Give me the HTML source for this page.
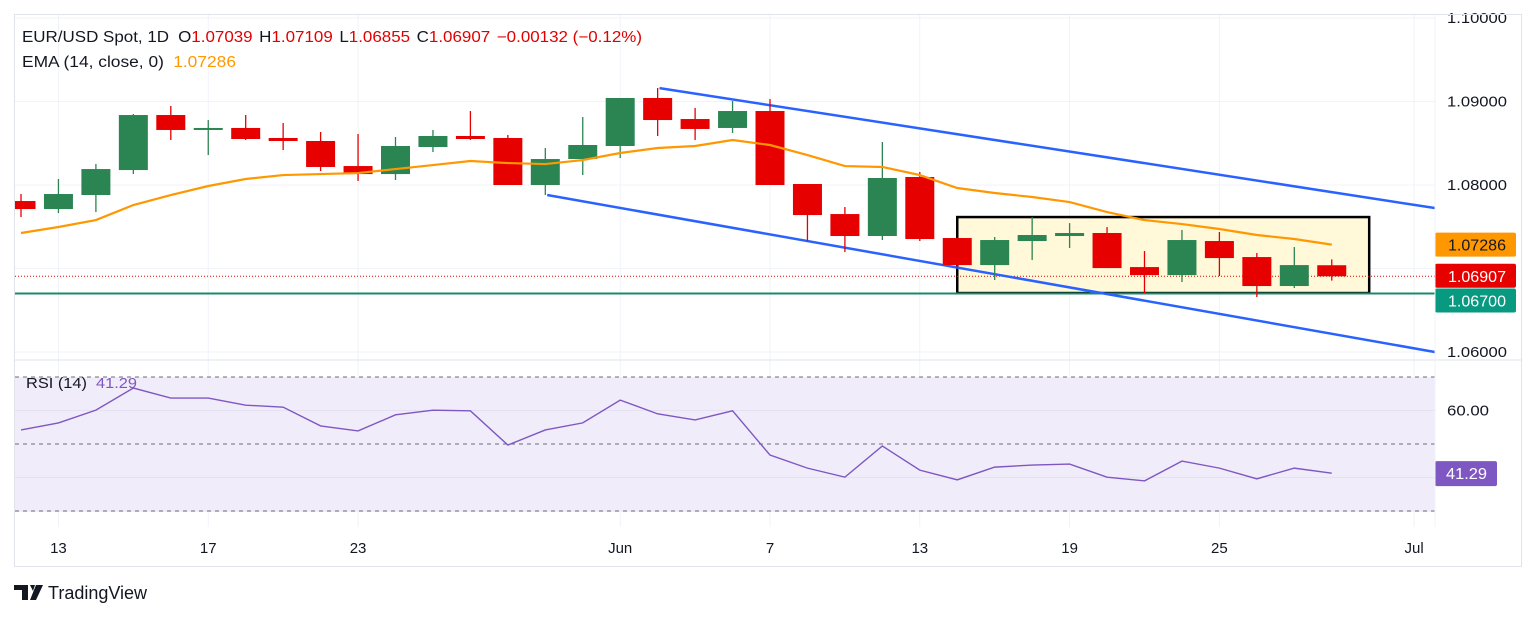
<!DOCTYPE html>
<html><head><meta charset="utf-8"><style>
html,body{margin:0;padding:0;background:#fff;width:1536px;height:618px;overflow:hidden}
svg{display:block;font-family:"Liberation Sans","DejaVu Sans",sans-serif}
</style></head><body>
<svg id="chart" width="1536" height="618" viewBox="0 0 1536 618" xmlns="http://www.w3.org/2000/svg">
<g id="grid"></g>
<rect x="15" y="377" width="1420" height="135" fill="#f1ecf9"/>
<g id="rsigrid"></g>
<g id="price"></g>
<g id="rsi"></g>
<g id="axes"></g>
<rect x="14.5" y="14.5" width="1507" height="552" fill="none" stroke="#e0e3eb"/>
<line x1="15" x2="1521" y1="360" y2="360" stroke="#e0e3eb"/>
<line x1="1435" x2="1435" y1="15" y2="527" stroke="#f0f3fa"/>
<text x="22" y="42" font-size="15.5" fill="#131722" textLength="620" lengthAdjust="spacingAndGlyphs">EUR/USD Spot, 1D <tspan dx="4">O</tspan><tspan fill="#e00000">1.07039</tspan><tspan dx="6">H</tspan><tspan fill="#e00000">1.07109</tspan><tspan dx="6">L</tspan><tspan fill="#e00000">1.06855</tspan><tspan dx="6">C</tspan><tspan fill="#e00000">1.06907</tspan><tspan dx="6" fill="#e00000">−0.00132 (−0.12%)</tspan></text>
<text x="22" y="67" font-size="15.5" fill="#131722" textLength="214" lengthAdjust="spacingAndGlyphs">EMA (14, close, 0) <tspan dx="4" fill="#ff9800">1.07286</tspan></text>
<text x="26" y="388" font-size="14.5" fill="#131722" textLength="111" lengthAdjust="spacingAndGlyphs">RSI (14) <tspan dx="4" fill="#7e57c2">41.29</tspan></text>
<g>
<path d="M14 585h14v15h-6v-10h-8z M30 585h5l-2 6z M36 585h7l-7 15h-6z" fill="#131722"/>
<text x="48" y="599" font-size="18" fill="#131722">TradingView</text>
</g>
</svg>
<script>
const dates=[1,5,9,16,20,24,28,32,37.2];
const dateLabels=["13","17","23","Jun","7","13","19","25","Jul"];
const openP=[1.07808,1.07712,1.0788,1.08179,1.08838,1.08659,1.08683,1.08563,1.08527,1.08227,1.08131,1.08455,1.08587,1.08563,1.08,1.08311,1.08467,1.09042,1.0879,1.08683,1.08886,1.08012,1.07652,1.07389,1.08096,1.07365,1.07041,1.07329,1.07389,1.07425,1.07017,1.06921,1.07329,1.07137,1.0679,1.07039];
const highP=[1.07892,1.08072,1.08251,1.0885,1.08946,1.08778,1.08838,1.08742,1.08635,1.08611,1.08575,1.08659,1.08886,1.08599,1.08443,1.08814,1.09042,1.09162,1.08922,1.09006,1.0903,1.08012,1.07736,1.08515,1.08156,1.07365,1.07377,1.07616,1.07544,1.07496,1.07209,1.07461,1.07437,1.07185,1.07257,1.07109];
const lowP=[1.07616,1.07664,1.07676,1.08131,1.08539,1.08359,1.08539,1.08419,1.08167,1.08048,1.0806,1.08395,1.08539,1.08,1.0788,1.08119,1.08323,1.08587,1.08539,1.08623,1.08,1.07329,1.07197,1.07341,1.07329,1.07005,1.06862,1.07101,1.07245,1.07005,1.06706,1.06838,1.0691,1.06658,1.06766,1.06855];
const closeP=[1.07712,1.07892,1.08191,1.08838,1.08659,1.08683,1.08551,1.08527,1.08216,1.08131,1.08467,1.08587,1.08551,1.08,1.08311,1.08479,1.09042,1.08778,1.08671,1.08886,1.08,1.0764,1.07389,1.08084,1.07353,1.07041,1.07341,1.07401,1.07425,1.07005,1.06921,1.07341,1.07125,1.0679,1.07041,1.06907];
const emaP=[1.07425,1.07497,1.0758,1.0776,1.0788,1.07988,1.08072,1.08119,1.08131,1.08143,1.08191,1.08239,1.08287,1.08263,1.08251,1.08299,1.08383,1.08443,1.08467,1.08539,1.08479,1.08359,1.08227,1.08216,1.08119,1.07964,1.07904,1.07856,1.07796,1.07676,1.0758,1.07532,1.07473,1.07401,1.07353,1.07286];
const rsiV=[54.2,56.3,60.1,66.7,63.7,63.7,61.6,61.0,55.4,53.9,58.7,60.1,59.9,49.7,54.2,56.3,63.1,59.0,57.2,59.9,46.7,42.8,40.1,49.4,42.2,39.3,43.1,43.7,44.0,40.1,39.0,44.9,42.8,39.6,42.8,41.29];
const priceTicks=[1.10,1.09,1.08,1.07,1.06];
const priceTickLabels=["1.10000","1.09000","1.08000","","1.06000"];
const upperChannel=[[17.05,1.0916],[37.75,1.07724]];
const lowerChannel=[[14.05,1.0788],[37.75,1.06]];
const rangeBox=[[25.0,1.07616],[36.0,1.06706]];
const supportLevel=1.067;
const lastClose=1.06907;
const lastEma=1.07286;
const lastRsi=41.29;

const NS="http://www.w3.org/2000/svg";
const X=i=>21+37.45*i;
const Y=p=>18+(1.10-p)*8350;
const R=v=>377+(70-v)*3.35;
function mk(parent,tag,attrs){const e=document.createElementNS(NS,tag);for(const k in attrs)e.setAttribute(k,attrs[k]);document.getElementById(parent).appendChild(e);return e;}

dates.forEach((d,i)=>{
 const g=mk('grid','line',{x1:X(d),x2:X(d),y1:15,y2:527,stroke:'#f0f3fa'});
 
 
 const t=mk('axes','text',{x:X(d),y:553,'font-size':15,'text-anchor':'middle',fill:'#131722'});
 t.textContent=dateLabels[i];
 
 
});
priceTicks.forEach((p,i)=>{
 const g=mk('grid','line',{x1:15,x2:1435,y1:Y(p),y2:Y(p),stroke:'#f0f3fa'});
 
 
 if(priceTickLabels[i]){const t=mk('axes','text',{x:1447,y:Y(p)+5,'font-size':15,fill:'#131722',textLength:60,lengthAdjust:'spacingAndGlyphs'});
 t.textContent=priceTickLabels[i];
 
 }
});
[60,40].forEach(v=>{const g=mk('rsigrid','line',{x1:15,x2:1435,y1:R(v),y2:R(v),stroke:'#e6e1f2'});
 
 });
[70,50,30].forEach(v=>{const g=mk('rsigrid','line',{x1:15,x2:1435,y1:R(v),y2:R(v),stroke:'#6a6d78','stroke-dasharray':'4 4'});
 
 });
const t60=mk('axes','text',{x:1447,y:R(60)+5,'font-size':15,fill:'#131722',textLength:42,lengthAdjust:'spacingAndGlyphs'});t60.textContent='60.00';



const bx=mk('price','rect',{x:X(rangeBox[0][0]),y:Y(rangeBox[0][1]),width:X(rangeBox[1][0])-X(rangeBox[0][0]),height:Y(rangeBox[1][1])-Y(rangeBox[0][1]),fill:'#fff8d9',stroke:'#000','stroke-width':2.5});


const sl=mk('price','line',{x1:15,x2:1435,y1:Y(supportLevel),y2:Y(supportLevel),stroke:'#1b8a6b','stroke-width':2});


const cl=mk('price','line',{x1:15,x2:1435,y1:Y(lastClose),y2:Y(lastClose),stroke:'#e00000','stroke-dasharray':'1 2'});


[upperChannel,lowerChannel].forEach((c,k)=>{
 const l=mk('price','line',{x1:X(c[0][0]),y1:Y(c[0][1]),x2:X(c[1][0]),y2:Y(c[1][1]),stroke:'#2962ff','stroke-width':2.5});
 
 
});
openP.forEach((o,i)=>{
 const c=closeP[i],up=c>=o,col=up?'#2b8553':'#e60000';
 const w=mk('price','line',{x1:X(i),x2:X(i),y1:Y(highP[i]),y2:Y(lowP[i]),stroke:col,'stroke-width':1.3});
 
 
 const top=Y(Math.max(o,c)),h=Math.max(2,Math.abs(Y(o)-Y(c)));
 const b=mk('price','rect',{x:X(i)-14.5,y:top,width:29,height:h,fill:col});
 
 
});
const ep=mk('price','polyline',{points:emaP.map((p,i)=>X(i)+','+Y(p)).join(' '),fill:'none',stroke:'#ff9800','stroke-width':2.2});


const rp=mk('rsi','polyline',{points:rsiV.map((v,i)=>X(i)+','+R(v)).join(' '),fill:'none',stroke:'#7e57c2','stroke-width':1.4});


const cover=mk('axes','rect',{x:0,y:15,width:14,height:512,fill:'#fff'});


function tag(name,y,val,bg,fg){
 const r=mk('axes','rect',{x:1435,y:y-12,width:81,height:24,rx:2,fill:bg});
 
 
 const t=mk('axes','text',{x:1448,y:y+6,'font-size':16,fill:fg,textLength:58,lengthAdjust:'spacingAndGlyphs'});
 t.textContent=val;
 
 
}
tag('ema-price',Y(lastEma),lastEma.toFixed(5),'#ff9800','#131722');
tag('last-price',Y(lastClose)-0.5,lastClose.toFixed(5),'#e60000','#fff');
tag('support-price',Y(supportLevel)+7,supportLevel.toFixed(5),'#089981','#fff');
const rr=mk('axes','rect',{x:1435,y:R(lastRsi)-12,width:62,height:25,rx:2,fill:'#7e57c2'});


const rt=mk('axes','text',{x:1446,y:R(lastRsi)+6,'font-size':16,fill:'#fff',textLength:41,lengthAdjust:'spacingAndGlyphs'});
rt.textContent=lastRsi.toFixed(2);


</script>
</body></html>
